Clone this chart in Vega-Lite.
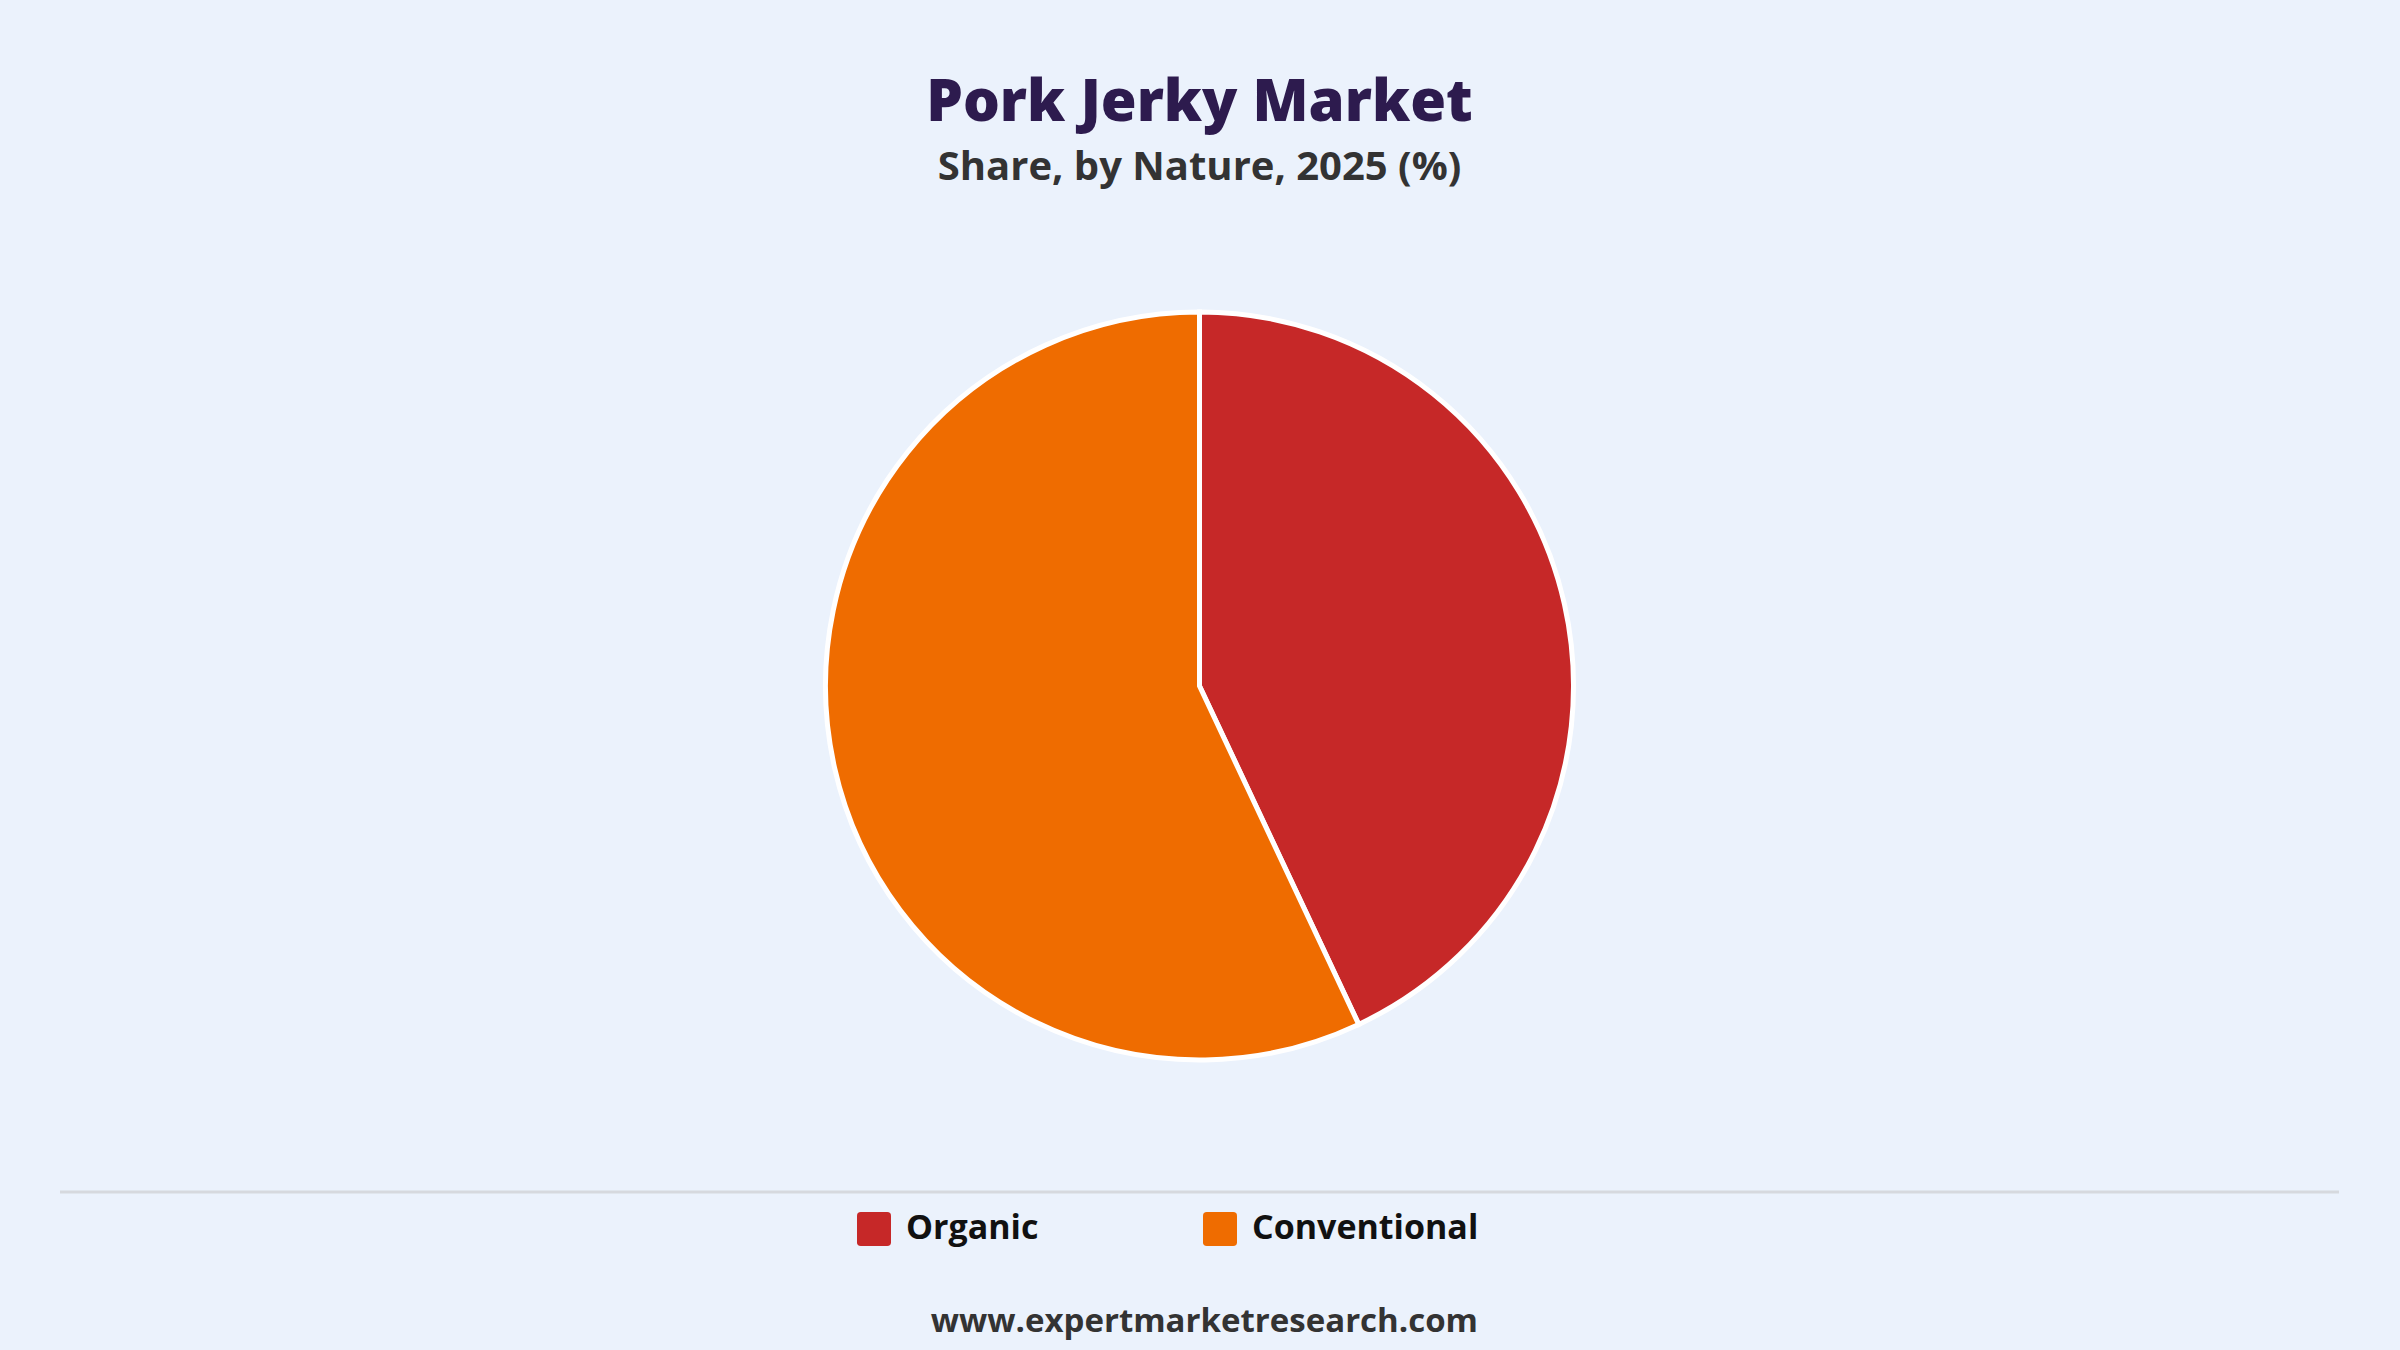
{
  "$schema": "https://vega.github.io/schema/vega-lite/v6.json",
  "width": 2279,
  "height": 1012,
  "autosize": {"type": "none"},
  "padding": {"top": 180, "left": 60, "right": 61, "bottom": 158},
  "background": "#ebf2fc",
  "view": {
    "stroke": "#d6d9de",
    "strokeWidth": 3,
    "strokeDash": [0, 3291, 2279, 1012]
  },
  "title": {
    "text": "Pork Jerky Market",
    "subtitle": "Share, by Nature, 2025 (%)",
    "anchor": "middle",
    "font": "Open Sans",
    "fontSize": 58,
    "fontWeight": 800,
    "color": "#2d1b4e",
    "subtitleFont": "Open Sans",
    "subtitleFontSize": 40,
    "subtitleFontWeight": "bold",
    "subtitleColor": "#333333",
    "subtitlePadding": 15,
    "offset": -8
  },
  "data": {
    "values": [
      {"nature": "Organic", "share": 43},
      {"nature": "Conventional", "share": 57}
    ]
  },
  "mark": {"type": "arc", "radius": 374, "stroke": "#ffffff", "strokeWidth": 5},
  "encoding": {
    "theta": {"field": "share", "type": "quantitative", "stack": true},
    "order": {"field": "share", "sort": "ascending"},
    "color": {
      "field": "nature",
      "type": "nominal",
      "sort": ["Organic", "Conventional"],
      "scale": {"domain": ["Organic", "Conventional"], "range": ["#c62828", "#ef6c00"]},
      "legend": {
        "orient": "none",
        "legendX": 797,
        "legendY": 1032,
        "direction": "horizontal",
        "columns": 2,
        "gridAlign": "all",
        "columnPadding": 70,
        "padding": 0,
        "symbolType": "M-0.78,-1L0.78,-1Q1,-1,1,-0.78L1,0.78Q1,1,0.78,1L-0.78,1Q-1,1,-1,0.78L-1,-0.78Q-1,-1,-0.78,-1Z",
        "symbolSize": 1156,
        "symbolStrokeWidth": 0,
        "symbolOpacity": 1,
        "labelFont": "Open Sans",
        "labelFontSize": 34,
        "labelFontWeight": "bold",
        "labelColor": "#111111",
        "labelOffset": 15,
        "labelLimit": 600,
        "title": "www.expertmarketresearch.com",
        "titleOrient": "bottom",
        "titleAnchor": "end",
        "titleFont": "Open Sans",
        "titleFontSize": 33,
        "titleFontWeight": "bold",
        "titleColor": "#333333",
        "titlePadding": 60,
        "titleLimit": 1200
      }
    }
  }
}
